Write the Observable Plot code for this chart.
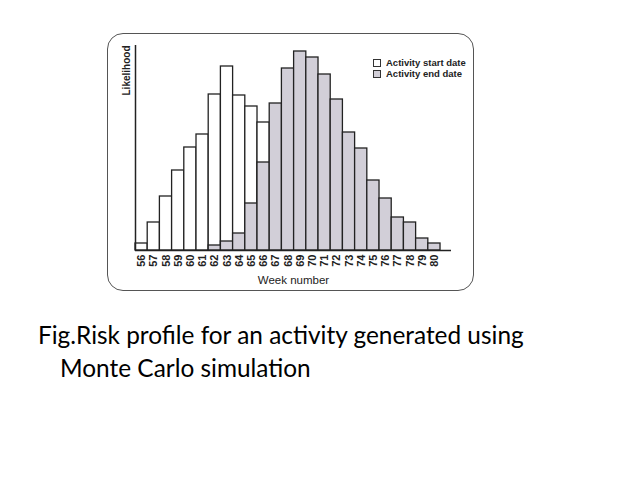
<!DOCTYPE html>
<html>
<head>
<meta charset="utf-8">
<script src="https://cdn.jsdelivr.net/npm/d3@7"></script>
<script src="https://cdn.jsdelivr.net/npm/@observablehq/plot@0.6"></script>
<style>
  html, body { margin: 0; padding: 0; background: #fff; }
  #wrap { position: relative; width: 638px; height: 478px; overflow: hidden; }
  #card { position: absolute; left: 107px; top: 33px; width: 367px; height: 258px;
          border: 1.5px solid #555; border-radius: 16px; box-sizing: border-box; }
  #chart { position: absolute; left: 0; top: 0; }
  #legend { position: absolute; left: 373px; top: 57px; font-family: "Liberation Sans", Arial, sans-serif;
            font-size: 9.5px; font-weight: bold; color: #222; line-height: 11px; }
  #legend .row { display: flex; align-items: center; }
  #legend .sw { width: 8px; height: 8px; border: 1px solid #333; margin-right: 5px; box-sizing: border-box; }
  #caption { position: absolute; left: 38px; top: 318px; font-family: Lato, "Open Sans", sans-serif;
             font-size: 24.4px; line-height: 33px; color: #000; }
  #caption .l2 { padding-left: 22px; }
</style>
</head>
<body>
<div id="wrap">
  <div id="card"></div>
  <div id="chart"></div>
  <div id="legend"></div>
  <div id="caption"><div>Fig.Risk profile for an activity generated using</div><div class="l2">Monte Carlo simulation</div></div>
</div>
<script>
// Data (arbitrary likelihood units)
const weeks = [56,57,58,59,60,61,62,63,64,65,66,67,68,69,70,71,72,73,74,75,76,77,78,79,80];
const startWeeks = [56,57,58,59,60,61,62,63,64,65,66];
const startValues = [7,28,54,80,103,116,156,184,155,144,128];
const endWeeks = [62,63,64,65,66,67,68,69,70,71,72,73,74,75,76,77,78,79,80];
const endValues = [5,9,17,47,88,147,182,199,193,176,151,118,102,70,52,33,28,12,7];
const seriesNames = ["Activity start date", "Activity end date"];
const seriesColors = ["#ffffff", "#d2cfd8"];

const startData = startWeeks.map((w, i) => ({week: w, value: startValues[i]}));
const endData = endWeeks.map((w, i) => ({week: w, value: endValues[i]}));

const chart = Plot.plot({
  width: 638,
  height: 300,
  marginLeft: 135,
  marginRight: 187,
  marginTop: 45,
  marginBottom: 50,
  style: { fontFamily: "Liberation Sans, Arial, sans-serif", fontSize: "11px", background: "transparent", color: "#222" },
  x: { domain: [55.5, 81.4] },
  y: { domain: [0, 205], axis: null },
  marks: [
    Plot.rectY(startData, { x1: d => d.week - 0.5, x2: d => d.week + 0.5, y: "value", fill: seriesColors[0], stroke: "#222", strokeWidth: 1.3 }),
    Plot.rectY(endData, { x1: d => d.week - 0.5, x2: d => d.week + 0.5, y: "value", fill: seriesColors[1], stroke: "#222", strokeWidth: 1.3 }),
    Plot.ruleY([0], { stroke: "#222", strokeWidth: 1.5 }),
    Plot.ruleX([55.5], { stroke: "#222", strokeWidth: 1.5 }),
    Plot.axisX({ ticks: weeks, tickFormat: d => String(d), tickRotate: -90, tickSize: 0, tickPadding: 4,
                 fontWeight: "bold", fontSize: 11, label: null }),
    Plot.text(["Week number"], { frameAnchor: "bottom", text: d => d, dy: 30, lineAnchor: "middle",
                 fontSize: 11.5, fill: "#222" }),
    Plot.text(["Likelihood"], { frameAnchor: "top-left", text: d => d, rotate: -90, textAnchor: "end", dx: -13,
                 fontWeight: "bold", fontSize: 10, fill: "#222" })
  ]
});
document.getElementById("chart").appendChild(chart);

const legend = document.getElementById("legend");
seriesNames.forEach((name, i) => {
  const row = document.createElement("div");
  row.className = "row";
  const sw = document.createElement("span");
  sw.className = "sw";
  sw.style.background = seriesColors[i];
  const t = document.createElement("span");
  t.textContent = name;
  row.appendChild(sw);
  row.appendChild(t);
  legend.appendChild(row);
});
</script>
</body>
</html>
